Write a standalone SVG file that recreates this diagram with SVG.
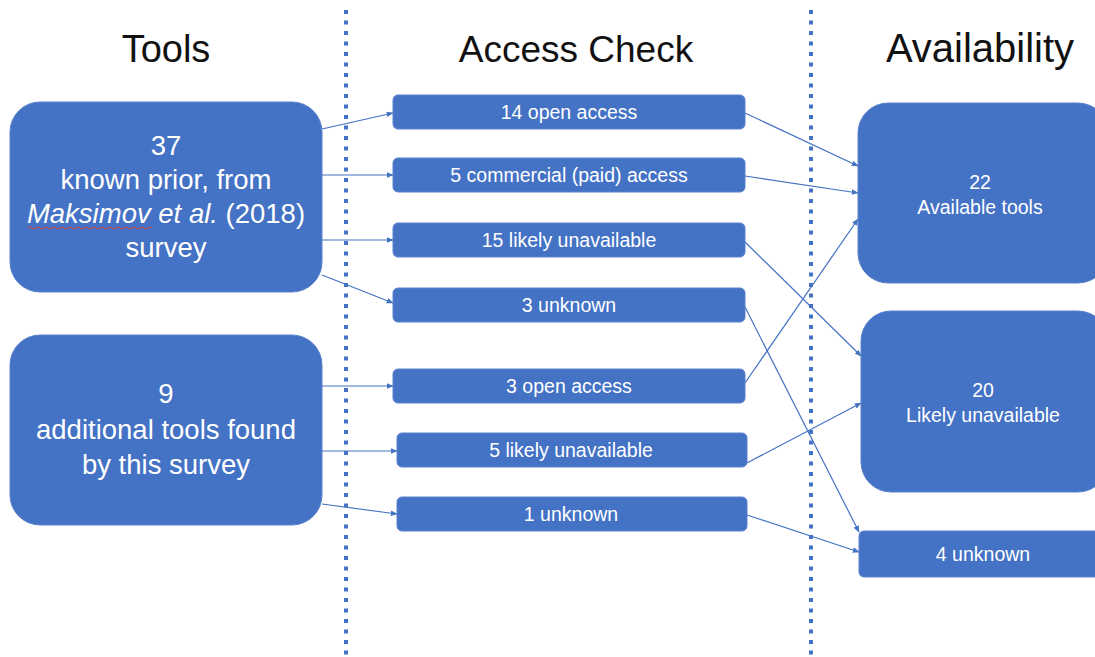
<svg xmlns="http://www.w3.org/2000/svg" width="1095" height="657" viewBox="0 0 1095 657">
  <defs>
    <marker id="arrow" viewBox="0 0 10 10" refX="9" refY="5" markerWidth="7" markerHeight="7" orient="auto" markerUnits="userSpaceOnUse">
      <path d="M0,1 L10,5 L0,9 Z" fill="#4472C4"/>
    </marker>
    <style>
      .box { fill: #4472C4; stroke: #5b82cc; stroke-width: 1; }
      .head { font-family: "Liberation Sans", Arial, sans-serif; fill: #111; text-anchor: middle; }
      .big { font-family: "Liberation Sans", Arial, sans-serif; font-size: 27.5px; fill: #fff; text-anchor: middle; }
      .mid { font-family: "Liberation Sans", Arial, sans-serif; font-size: 19.5px; fill: #fff; text-anchor: middle; }
      .res { font-family: "Liberation Sans", Arial, sans-serif; font-size: 19.5px; fill: #fff; text-anchor: middle; }
      .sep { stroke: #4472C4; stroke-width: 4; stroke-dasharray: 4 6.5; fill: none; }
      .link { stroke: #4472C4; stroke-width: 1.2; fill: none; marker-end: url(#arrow); }
    </style>
  </defs>

  <rect width="1095" height="657" fill="#ffffff"/>

  <!-- column separators -->
  <g id="separators">
    <line class="sep" x1="346" y1="10" x2="346" y2="657"/>
    <line class="sep" x1="811" y1="10" x2="811" y2="657"/>
  </g>

  <!-- column headings -->
  <g id="headings">
    <text class="head" x="166" y="62" font-size="38">Tools</text>
    <text class="head" x="576" y="62" font-size="37">Access Check</text>
    <text class="head" x="980" y="62" font-size="40">Availability</text>
  </g>

  <!-- connectors -->
  <g id="connectors">
    <line class="link" x1="322" y1="129" x2="393" y2="113"/>
    <line class="link" x1="322" y1="175" x2="393" y2="175"/>
    <line class="link" x1="322" y1="240" x2="393" y2="240"/>
    <line class="link" x1="322" y1="275" x2="393" y2="303"/>
    <line class="link" x1="322" y1="386" x2="393" y2="386"/>
    <line class="link" x1="322" y1="451" x2="397" y2="451"/>
    <line class="link" x1="322" y1="504" x2="397" y2="514"/>

    <line class="link" x1="745" y1="113" x2="858" y2="166"/>
    <line class="link" x1="745" y1="176" x2="858" y2="193"/>
    <line class="link" x1="745" y1="383" x2="858" y2="219"/>
    <line class="link" x1="745" y1="242" x2="861" y2="356"/>
    <line class="link" x1="747" y1="463" x2="861" y2="403"/>
    <line class="link" x1="745" y1="307" x2="859" y2="532"/>
    <line class="link" x1="747" y1="515" x2="859" y2="552"/>
  </g>

  <!-- source tools -->
  <g id="node-known">
    <rect class="box" x="10" y="102" width="312" height="190" rx="30"/>
    <text class="big" x="166" y="155">37</text>
    <text class="big" x="166" y="189">known prior, from</text>
    <text class="big" x="166" y="223"><tspan font-style="italic">Maksimov</tspan> <tspan font-style="italic">et al.</tspan> (2018)</text>
    <path d="M28,228 q2,-2 4,0 t4,0 t4,0 t4,0 t4,0 t4,0 t4,0 t4,0 t4,0 t4,0 t4,0 t4,0 t4,0 t4,0 t4,0 t4,0 t4,0 t4,0 t4,0 t4,0 t4,0 t4,0 t4,0 t4,0 t4,0 t4,0 t4,0 t4,0 t4,0 t4,0 t4,0" fill="none" stroke="#e0454f" stroke-width="1"/>
    <text class="big" x="166" y="257">survey</text>
  </g>

  <g id="node-additional">
    <rect class="box" x="10" y="335" width="312" height="190" rx="30"/>
    <text class="big" x="166" y="403">9</text>
    <text class="big" x="166" y="439">additional tools found</text>
    <text class="big" x="166" y="474">by this survey</text>
  </g>

  <!-- access check -->
  <g id="node-open14">
    <rect class="box" x="393" y="95" width="352" height="34" rx="5"/>
    <text class="mid" x="569" y="119">14 open access</text>
  </g>
  <g id="node-commercial5">
    <rect class="box" x="393" y="158" width="352" height="34" rx="5"/>
    <text class="mid" x="569" y="182">5 commercial (paid) access</text>
  </g>
  <g id="node-unavail15">
    <rect class="box" x="393" y="223" width="352" height="34" rx="5"/>
    <text class="mid" x="569" y="247">15 likely unavailable</text>
  </g>
  <g id="node-unknown3">
    <rect class="box" x="393" y="288" width="352" height="34" rx="5"/>
    <text class="mid" x="569" y="312">3 unknown</text>
  </g>
  <g id="node-open3">
    <rect class="box" x="393" y="369" width="352" height="34" rx="5"/>
    <text class="mid" x="569" y="393">3 open access</text>
  </g>
  <g id="node-unavail5">
    <rect class="box" x="397" y="433" width="350" height="34" rx="5"/>
    <text class="mid" x="571" y="457">5 likely unavailable</text>
  </g>
  <g id="node-unknown1">
    <rect class="box" x="397" y="497" width="350" height="34" rx="5"/>
    <text class="mid" x="571" y="521">1 unknown</text>
  </g>

  <!-- availability -->
  <g id="node-available">
    <rect class="box" x="858" y="103" width="250" height="180" rx="30"/>
    <text class="res" x="980" y="189">22</text>
    <text class="res" x="980" y="214">Available tools</text>
  </g>
  <g id="node-likely-unavailable">
    <rect class="box" x="861" y="311" width="247" height="181" rx="30"/>
    <text class="res" x="983" y="397">20</text>
    <text class="res" x="983" y="422">Likely unavailable</text>
  </g>
  <g id="node-unknown4">
    <rect class="box" x="859" y="531" width="249" height="46" rx="5"/>
    <text class="res" x="983" y="561">4 unknown</text>
  </g>
</svg>
